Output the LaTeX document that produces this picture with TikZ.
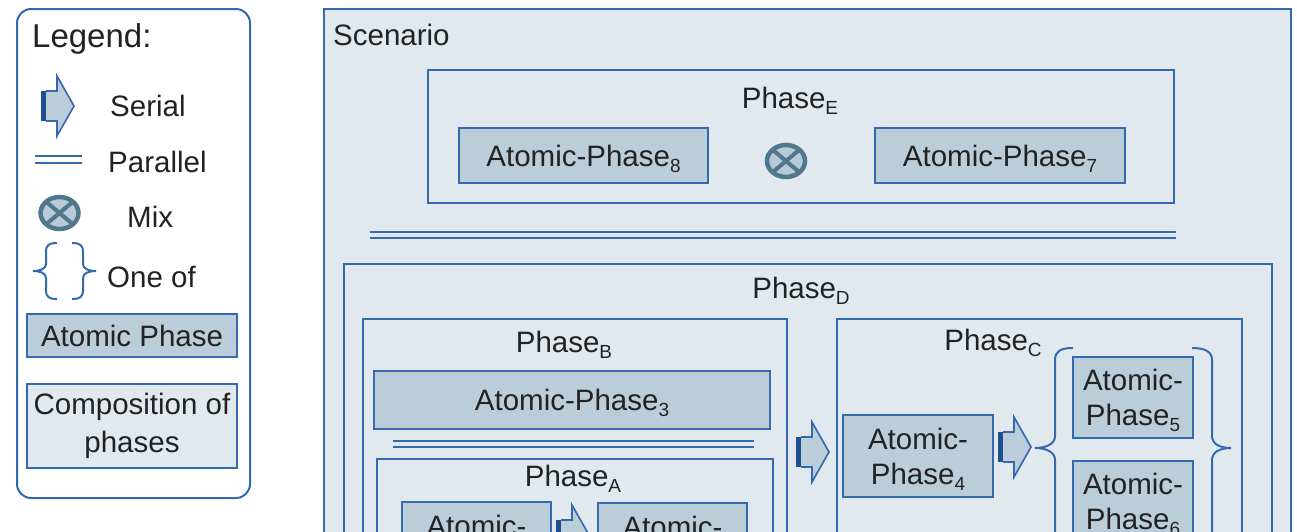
\documentclass[tikz,border=0pt]{standalone}
\usepackage{fontspec}
\setmainfont{Liberation Sans}
\usetikzlibrary{shapes.geometric}
\definecolor{bord}{HTML}{3269AF}
\definecolor{lightbg}{HTML}{E2E9EE}
\definecolor{atom}{HTML}{BCCDDA}
\definecolor{darkband}{HTML}{1F4F8F}
\definecolor{mixc}{HTML}{50788C}
\definecolor{mixin}{HTML}{B8CAD6}
\definecolor{txt}{HTML}{222222}
\newcommand\psub[1]{\raisebox{-6pt}[0pt][0pt]{\fontsize{19}{19}\selectfont #1}}
\tikzset{
  comp/.style={draw=bord, line width=2pt, fill=lightbg, inner sep=0pt, anchor=north west},
  atomic/.style={draw=bord, line width=2pt, fill=atom, inner sep=0pt, align=center,
    font=\fontsize{29.5}{35}\selectfont, text=txt},
  lbl/.style={font=\fontsize{29.5}{35}\selectfont, text=txt, inner sep=0pt, anchor=base},
  mix/.style={ellipse, draw=mixc, line width=4.5pt, fill=mixin, minimum width=38pt,
    minimum height=32pt, inner sep=0pt,
    path picture={\draw[mixc, line width=4pt]
      (path picture bounding box.north west) -- (path picture bounding box.south east)
      (path picture bounding box.north east) -- (path picture bounding box.south west);}},
  parline/.style={draw=bord, line width=2pt},
  bracestyle/.style={draw=bord, line width=2pt},
  pics/serialarrow/.style={code={
    \fill[atom] (0,-15) -- (16,-15) -- (16,-30) -- (33,0) -- (16,30) -- (16,15) -- (0,15) -- cycle;
    \fill[darkband] (0,-15) rectangle (5,15);
    \draw[bord, line width=1.6pt, line join=miter] (5,-15) -- (16,-15) -- (16,-30) -- (33,0) -- (16,30) -- (16,15) -- (5,15);
  }}
}
\begin{document}
\begin{tikzpicture}[x=1pt,y=-1pt]
\useasboundingbox (0,0) rectangle (1297,531);
\clip (0,0) rectangle (1297,531);
\fill[white] (0,0) rectangle (1297,531);

% ---------- Legend ----------
\node[draw=bord, line width=2pt, fill=white, rounded corners=14pt, anchor=north west,
  minimum width=233pt, minimum height=489pt, inner sep=0pt] (legend) at (16,8) {};
\node[lbl, anchor=base west, font=\fontsize{33}{35}\selectfont] (legtitle) at (32,47) {Legend:};
\pic at (41,106) {serialarrow};
\node[lbl, anchor=base west] (legserial) at (110,116) {Serial};
\draw[parline] (35,156) -- (82,156);
\draw[parline] (35,163) -- (82,163);
\node[lbl, anchor=base west] (legpar) at (108,172) {Parallel};
\node[mix] (legmix) at (59.5,213) {};
\node[lbl, anchor=base west] (legmixt) at (127,227) {Mix};
\draw[bracestyle] (57,243) .. controls (49,243) and (46,245) .. (46,252) -- (46,264)
  .. controls (46,269) and (40,271) .. (33,271) .. controls (40,271) and (46,273) .. (46,278)
  -- (46,290) .. controls (46,297) and (49,299) .. (57,299);
\draw[bracestyle] (72,243) .. controls (80,243) and (83,245) .. (83,252) -- (83,264)
  .. controls (83,269) and (89,271) .. (96,271) .. controls (89,271) and (83,273) .. (83,278)
  -- (83,290) .. controls (83,297) and (80,299) .. (72,299);
\node[lbl, anchor=base west] (legone) at (107,287) {One of};
\node[atomic, minimum width=210pt, minimum height=43pt] (legatom) at (132,335.5) {Atomic Phase};
\node[comp, anchor=center, minimum width=210pt, minimum height=84pt, align=center,
  font=\fontsize{29.5}{38}\selectfont, text=txt] (legcomp) at (132,426) {Composition of\\phases};

% ---------- Scenario ----------
\node[comp, minimum width=967pt, minimum height=600pt] (scenario) at (323,8) {};
\node[lbl, anchor=base west] (scenariot) at (333,45) {Scenario};

% Phase E
\node[comp, minimum width=746pt, minimum height=133pt] (phaseE) at (427,69) {};
\node[lbl] (phaseEt) at (790,108) {Phase\psub{E}};
\node[atomic, minimum width=249pt, minimum height=55pt] (ap8) at (583.5,155.5) {Atomic-Phase\psub{8}};
\node[mix] (mixE) at (786,161) {};
\node[atomic, minimum width=250pt, minimum height=55pt] (ap7) at (1000,155.5) {Atomic-Phase\psub{7}};

\draw[parline] (370,232) -- (1176,232);
\draw[parline] (370,237.5) -- (1176,237.5);

% Phase D
\node[comp, minimum width=928pt, minimum height=400pt] (phaseD) at (343,263) {};
\node[lbl] (phaseDt) at (801,298) {Phase\psub{D}};

% Phase B
\node[comp, minimum width=424pt, minimum height=300pt] (phaseB) at (362,318) {};
\node[lbl] (phaseBt) at (564,352) {Phase\psub{B}};
\node[atomic, minimum width=396pt, minimum height=58pt] (ap3) at (572,400) {Atomic-Phase\psub{3}};
\draw[parline] (393,441) -- (754,441);
\draw[parline] (393,446.5) -- (754,446.5);

% Phase A
\node[comp, minimum width=396pt, minimum height=200pt] (phaseA) at (376,458) {};
\node[lbl] (phaseAt) at (573,486) {Phase\psub{A}};
\node[atomic, minimum width=149pt, minimum height=82pt] (ap1) at (476.5,543) {Atomic-\\Phase\psub{1}};
\node[atomic, minimum width=149pt, minimum height=82pt] (ap2) at (672.5,544) {Atomic-\\Phase\psub{2}};
\pic at (556,535) {serialarrow};

% serial B -> C
\pic at (796,452) {serialarrow};

% Phase C
\node[comp, minimum width=405pt, minimum height=300pt] (phaseC) at (836,318) {};
\node[lbl] (phaseCt) at (993,350) {Phase\psub{C}};
\node[atomic, minimum width=150pt, minimum height=82pt] (ap4) at (918,456) {Atomic-\\Phase\psub{4}};
\pic at (998,447) {serialarrow};
\node[atomic, minimum width=120pt, minimum height=81pt] (ap5) at (1133,397.5) {Atomic-\\Phase\psub{5}};
\node[atomic, minimum width=120pt, minimum height=81pt] (ap6) at (1133,501.5) {Atomic-\\Phase\psub{6}};
\draw[bracestyle] (1073,348) .. controls (1061,348) and (1055,351) .. (1055,360) -- (1055,436)
  .. controls (1055,444) and (1046,448) .. (1035,448) .. controls (1046,448) and (1055,452) .. (1055,460)
  -- (1055,536) .. controls (1055,545) and (1061,548) .. (1073,548);
\draw[bracestyle] (1192,348) .. controls (1204,348) and (1212,351) .. (1212,360) -- (1212,436)
  .. controls (1212,444) and (1220,448) .. (1231,448) .. controls (1220,448) and (1212,452) .. (1212,460)
  -- (1212,536) .. controls (1212,545) and (1204,548) .. (1192,548);
\end{tikzpicture}
\end{document}
